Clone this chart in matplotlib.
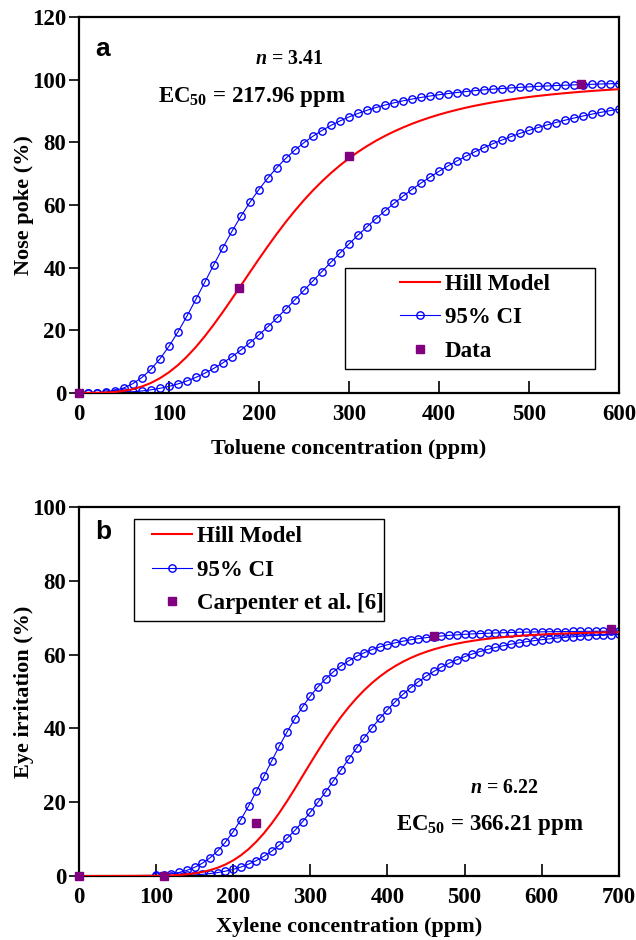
import matplotlib
matplotlib.use('Agg')
import matplotlib.pyplot as plt
from matplotlib.patches import Rectangle

plt.rcParams['font.family'] = 'Liberation Serif'
plt.rcParams['font.weight'] = 'bold'
plt.rcParams['mathtext.fontset'] = 'custom'
plt.rcParams['mathtext.rm'] = 'Liberation Serif:bold'
plt.rcParams['mathtext.bf'] = 'Liberation Serif:bold'
plt.rcParams['mathtext.it'] = 'Liberation Serif:italic:bold'

# ---- panel a: toluene, nose poke ----
tol_x = list(range(0, 601, 10))
tol_hill = [0.00, 0.00, 0.03, 0.12, 0.31, 0.66, 1.21, 2.04, 3.17, 4.67,
            6.56, 8.85, 11.56, 14.65, 18.10, 21.86, 25.84, 29.99, 34.24, 38.50,
            42.72, 46.83, 50.79, 54.58, 58.14, 61.49, 64.60, 67.48, 70.15, 72.59,
            74.83, 76.88, 78.74, 80.45, 82.00, 83.41, 84.70, 85.87, 86.94, 87.91,
            88.80, 89.61, 90.35, 91.03, 91.65, 92.21, 92.74, 93.22, 93.65, 94.06,
            94.44, 94.78, 95.10, 95.39, 95.66, 95.92, 96.15, 96.37, 96.57, 96.76,
            96.93]
tol_ci_up = [0.00, 0.01, 0.07, 0.29, 0.76, 1.61, 2.96, 4.91, 7.52, 10.84,
             14.82, 19.41, 24.47, 29.85, 35.40, 40.95, 46.36, 51.52, 56.36, 60.82,
             64.90, 68.59, 71.91, 74.87, 77.50, 79.83, 81.90, 83.73, 85.35, 86.78,
             88.06, 89.18, 90.18, 91.07, 91.87, 92.57, 93.21, 93.78, 94.29, 94.75,
             95.16, 95.53, 95.87, 96.18, 96.46, 96.71, 96.94, 97.15, 97.34, 97.52,
             97.68, 97.83, 97.96, 98.09, 98.20, 98.31, 98.41, 98.50, 98.59, 98.67,
             98.74]
tol_ci_lo = [0.00, 0.00, 0.01, 0.04, 0.09, 0.20, 0.37, 0.63, 0.99, 1.47,
             2.09, 2.87, 3.82, 4.96, 6.30, 7.84, 9.58, 11.53, 13.67, 16.00,
             18.49, 21.13, 23.90, 26.77, 29.70, 32.69, 35.70, 38.70, 41.68, 44.62,
             47.49, 50.28, 52.98, 55.59, 58.08, 60.46, 62.74, 64.90, 66.94, 68.86,
             70.69, 72.41, 74.02, 75.53, 76.95, 78.27, 79.52, 80.69, 81.79, 82.81,
             83.77, 84.67, 85.51, 86.30, 87.03, 87.72, 88.37, 88.97, 89.54, 90.07,
             90.58]
tol_data_x = [0, 178, 300, 558]
tol_data_y = [0, 33.5, 75.5, 98.5]

# ---- panel b: xylene, eye irritation ----
xyl_x = [0] + list(range(100, 701, 10))
xyl_hill = [0.00, 0.06, 0.11, 0.19, 0.31, 0.49, 0.75, 1.11, 1.61, 2.27, 3.14,
            4.24, 5.62, 7.30, 9.31, 11.62, 14.27, 17.19, 20.34, 23.67, 27.10,
            30.54, 33.92, 37.18, 40.28, 43.16, 45.81, 48.22, 50.39, 52.33, 54.05,
            55.57, 56.90, 58.07, 59.09, 59.98, 60.75, 61.43, 62.02, 62.54, 62.99,
            63.39, 63.73, 64.04, 64.30, 64.54, 64.74, 64.92, 65.08, 65.23, 65.35,
            65.47, 65.57, 65.66, 65.73, 65.80, 65.87, 65.92, 65.98, 66.02, 66.06,
            66.10]
xyl_ci_up = [0.00, 0.20, 0.35, 0.61, 0.99, 1.56, 2.36, 3.47, 4.94, 6.84, 9.19,
             12.02, 15.30, 18.97, 22.93, 27.05, 31.21, 35.26, 39.09, 42.65, 45.88,
             48.76, 51.28, 53.47, 55.36, 56.98, 58.36, 59.53, 60.52, 61.37, 62.08,
             62.69, 63.20, 63.64, 64.02, 64.34, 64.61, 64.85, 65.05, 65.22, 65.37,
             65.51, 65.62, 65.72, 65.80, 65.88, 65.94, 66.00, 66.05, 66.10, 66.14,
             66.18, 66.21, 66.24, 66.26, 66.28, 66.30, 66.32, 66.34, 66.35, 66.36,
             66.38]
xyl_ci_lo = [0.00, 0.03, 0.05, 0.08, 0.13, 0.20, 0.31, 0.46, 0.68, 0.96, 1.33,
             1.82, 2.44, 3.23, 4.19, 5.36, 6.75, 8.38, 10.25, 12.37, 14.72,
             17.28, 20.01, 22.87, 25.83, 28.81, 31.78, 34.70, 37.51, 40.19, 42.70,
             45.06, 47.23, 49.21, 51.02, 52.65, 54.12, 55.44, 56.62, 57.67, 58.61,
             59.44, 60.18, 60.84, 61.42, 61.94, 62.40, 62.81, 63.18, 63.50, 63.79,
             64.05, 64.28, 64.49, 64.68, 64.84, 64.99, 65.12, 65.24, 65.35, 65.45,
             65.54]
xyl_data_x = [0, 110, 230, 460, 690]
xyl_data_y = [0, 0, 14.5, 65, 67]

red = '#ff0000'
blue = '#0000ff'
purple = '#800080'
TICK_FS = 16.5
LABEL_FS = 16
LEG_FS = 16.5


def draw_panel(ax, x, hill, up, lo, dx, dy, data_label, xmax, ymax, xstep, ystep, mark_from):
    marks = [i for i, v in enumerate(x) if v >= mark_from]
    ax.plot(x, hill, color=red, lw=1.5, label='Hill Model', zorder=3)
    ax.plot(x, up, color=blue, lw=0.8, marker='o', ms=5.3, mfc='none', mec=blue, mew=1.0,
            markevery=marks, label='95% CI', zorder=2)
    ax.plot(x, lo, color=blue, lw=0.8, marker='o', ms=5.3, mfc='none', mec=blue, mew=1.0,
            markevery=marks, zorder=2)
    ax.plot(dx, dy, ls='none', marker='s', ms=6, color=purple, label=data_label, zorder=4,
            clip_on=False)
    ax.set_xlim(0, xmax)
    ax.set_ylim(0, ymax)
    ax.set_xticks(range(0, xmax + 1, xstep))
    ax.set_yticks(range(0, ymax + 1, ystep))
    ax.tick_params(axis='x', direction='in', length=9, width=1.2, labelsize=TICK_FS, pad=8)
    ax.tick_params(axis='y', direction='out', length=7, width=1.2, labelsize=TICK_FS, pad=2)
    for lbl in ax.get_xticklabels() + ax.get_yticklabels():
        lbl.set_fontweight('bold')
    for s in ax.spines.values():
        s.set_linewidth(1.6)
        s.set_color('black')


def boxed_legend(ax, box, anchor):
    ax.add_patch(Rectangle(box[:2], box[2], box[3], transform=ax.transAxes, fill=False,
                           edgecolor='black', lw=1.0, zorder=5, clip_on=False))
    ax.legend(loc='center left', bbox_to_anchor=anchor, frameon=False, borderpad=0,
              borderaxespad=0, handlelength=1.75, handletextpad=0.22, labelspacing=0.55,
              prop={'family': 'Liberation Serif', 'weight': 'bold', 'size': LEG_FS})


fig = plt.figure(figsize=(6.36, 9.4), dpi=100)

ax1 = fig.add_axes([0.124, 0.582, 0.849, 0.400])
draw_panel(ax1, tol_x, tol_hill, tol_ci_up, tol_ci_lo, tol_data_x, tol_data_y, 'Data',
           600, 120, 100, 20, 0)
ax1.set_xlabel('Toluene concentration (ppm)', fontsize=LABEL_FS, fontweight='bold')
ax1.set_ylabel('Nose poke (%)', fontsize=LABEL_FS, fontweight='bold')
ax1.xaxis.set_label_coords(0.5, -0.122)
ax1.yaxis.set_label_coords(-0.084, 0.5)
ax1.text(0.03, 0.915, 'a', transform=ax1.transAxes, family='Liberation Sans',
         fontsize=19, fontweight='bold', va='center', ha='left')
ax1.text(234, 106.5, r'$\mathit{n}$ = 3.41', fontsize=14.3, ha='center', va='center')
ax1.text(192, 94.6, r'EC$_{50}$ = 217.96 ppm', fontsize=16.5, ha='center', va='center')
boxed_legend(ax1, (0.4926, 0.0638, 0.463, 0.2694), (0.5944, 0.1995))

ax2 = fig.add_axes([0.124, 0.068, 0.849, 0.3926])
draw_panel(ax2, xyl_x, xyl_hill, xyl_ci_up, xyl_ci_lo, xyl_data_x, xyl_data_y,
           'Carpenter et al. [6]', 700, 100, 100, 20, 100)
ax2.set_xlabel('Xylene concentration (ppm)', fontsize=LABEL_FS, fontweight='bold')
ax2.set_ylabel('Eye irritation (%)', fontsize=LABEL_FS, fontweight='bold')
ax2.xaxis.set_label_coords(0.5, -0.111)
ax2.yaxis.set_label_coords(-0.084, 0.5)
ax2.text(0.03, 0.932, 'b', transform=ax2.transAxes, family='Liberation Sans',
         fontsize=19, fontweight='bold', va='center', ha='left')
ax2.text(551, 23.8, r'$\mathit{n}$ = 6.22', fontsize=14.3, ha='center', va='center')
ax2.text(533, 13.8, r'EC$_{50}$ = 366.21 ppm', fontsize=16.5, ha='center', va='center')
boxed_legend(ax2, (0.1019, 0.691, 0.463, 0.2764), (0.1352, 0.8293))

fig.savefig('out.png', dpi=100)
